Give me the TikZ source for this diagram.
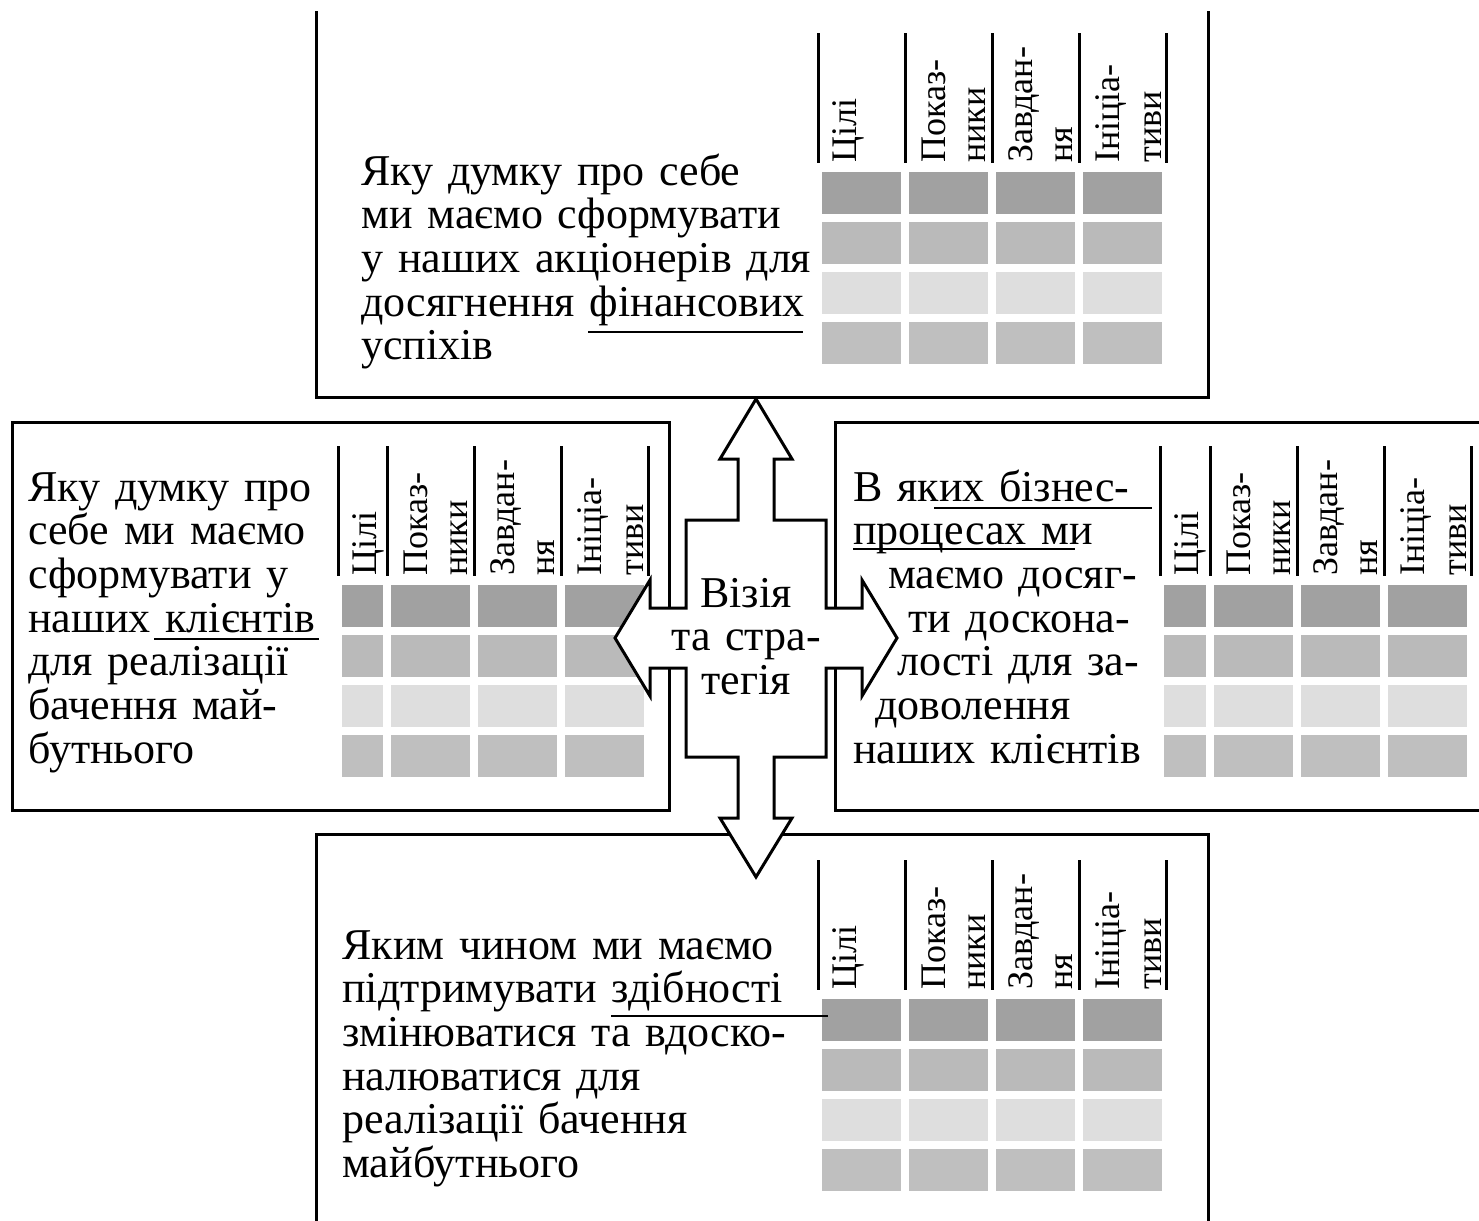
\documentclass[tikz,border=0pt]{standalone}
\usepackage{fontspec}
\setmainfont{Liberation Serif}
\usetikzlibrary{calc}

\definecolor{rowa}{gray}{0.63}
\definecolor{rowb}{gray}{0.73}
\definecolor{rowc}{gray}{0.87}
\definecolor{rowd}{gray}{0.75}

\begin{document}
\begin{tikzpicture}[x=0.5pt, y=-0.5pt,
	frame/.style={line width=1.5pt},
	colline/.style={line width=1.5pt},
	hdr/.style={rotate=90, anchor=base west, inner sep=0pt, font=\fontsize{18}{20}\selectfont},
	txt/.style={anchor=base west, inner sep=0pt, align=left, text width=260pt, font=\fontsize{22}{21.85}\selectfont},
	uline/.style={line width=0.7pt}]
	\useasboundingbox (0,0) rectangle (1479,1221);

	%boxes
	\draw[frame] (316,11) -- (316,397) -- (1208,397) -- (1208,11);		%top (open)
	\draw[frame] (12,422) rectangle (669,810);							%left
	\draw[frame] (1479,422) -- (835,422) -- (835,810) -- (1479,810);	%right (cut)
	\draw[frame] (316,1221) -- (316,834) -- (1208,834) -- (1208,1221);	%bottom (open)

	%tables: left line, bottom of heads, width of first column
	\foreach \tx/\ty/\wa [count=\t] in {818/163/87, 338/576/49, 1160/576/50, 818/990/87}{
		\foreach \ry/\rc in {9/rowa, 59/rowb, 109/rowc, 159/rowd}{
			\fill[\rc] (\tx+4,\ty+\ry) rectangle (\tx+\wa-4,\ty+\ry+42);
			\foreach \c in {0,87,174}
				\fill[\rc] (\tx+\wa+\c+4,\ty+\ry) rectangle (\tx+\wa+\c+83,\ty+\ry+42);
		}
		\foreach \c in {0,\wa,\wa+87,\wa+174,\wa+261}
			\draw[colline] (\tx+\c,\ty-130) -- (\tx+\c,\ty);
		\node[hdr] (goal\t)  at (\tx+38,\ty)         {Цілі};
		\node[hdr] (kpi\t)   at (\tx+\wa+40,\ty)     {Показ-};
		\node[hdr] (kpib\t)  at (\tx+\wa+80,\ty)     {ники};
		\node[hdr] (task\t)  at (\tx+\wa+127,\ty)    {Завдан-};
		\node[hdr] (taskb\t) at (\tx+\wa+167,\ty)    {ня};
		\node[hdr] (init\t)  at (\tx+\wa+214,\ty)    {Ініціа-};
		\node[hdr] (initb\t) at (\tx+\wa+256,\ty)    {тиви};
	}

	%questions
	\node[txt] (fin) at (361,185) {Яку думку про себе\\ми маємо сформувати\\у наших акціонерів для\\досягнення фінансових\\успіхів};
	\node[txt] (cust) at (28,501) {Яку думку про\\себе ми маємо\\сформувати у\\наших клієнтів\\для реалізації\\бачення май-\\бутнього};
	\node[txt] (proc) at (853,501) {В яких бізнес-\\процесах ми\\\hspace*{17.5pt}маємо досяг-\\\hspace*{27.5pt}ти доскона-\\\hspace*{22pt}лості для за-\\\hspace*{11pt}доволення\\наших клієнтів};
	\node[txt] (learn) at (342,959) {Яким чином ми маємо\\підтримувати здібності\\змінюватися та вдоско-\\налюватися для\\реалізації бачення\\майбутнього};

	%underlines
	\draw[uline] (588,332) -- (803,332);	%top
	\draw[uline] (154,639) -- (319,639);	%left
	\draw[uline] (934,508) -- (1152,508);	%right
	\draw[uline] (853,549) -- (1075,549);	%right
	\draw[uline] (611,1016) -- (828,1016);	%bottom

	%cross arrow
	\draw[frame, fill=white] (756,399) -- (792,459) -- (774,459) -- (774,520) -- (826,520) -- (826,608)
		-- (862,608) -- (862,580) -- (897,638) -- (862,696) -- (862,668) -- (826,668) -- (826,757)
		-- (774,757) -- (774,818) -- (792,818) -- (756,877) -- (720,818) -- (738,818) -- (738,757)
		-- (686,757) -- (686,668) -- (650,668) -- (650,696) -- (615,638) -- (650,580) -- (650,608)
		-- (686,608) -- (686,520) -- (738,520) -- (738,459) -- (720,459) -- cycle;
	\node[txt, align=center, text width=80pt, anchor=base] (vision) at (746,607) {Візія\\та стра-\\тегія};
\end{tikzpicture}
\end{document}
